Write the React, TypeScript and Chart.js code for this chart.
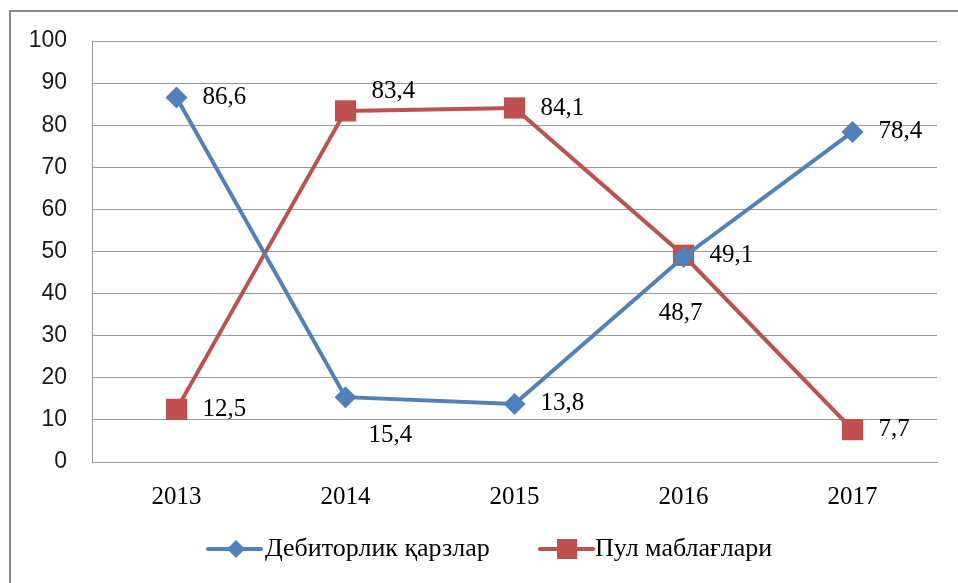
import React, { useEffect, useRef } from 'react';
import { Chart, registerables } from 'chart.js';

Chart.register(...registerables);

const years = ['2013', '2014', '2015', '2016', '2017'];
const receivables = [86.6, 15.4, 13.8, 48.7, 78.4];
const cash = [12.5, 83.4, 84.1, 49.1, 7.7];
const seriesNames = ['Дебиторлик қарзлар', 'Пул маблағлари'];
const yTicks = [0, 10, 20, 30, 40, 50, 60, 70, 80, 90, 100];
const receivablesLabelPlace = ['right', 'belowRight', 'right', 'below', 'right'];
const cashLabelPlace = ['right', 'aboveRight', 'right', 'right', 'right'];

const BLUE = '#4F81BD';
const RED = '#C0504D';
const SERIF = '"Liberation Serif", "Times New Roman", serif';
const SANS = '"Liberation Sans", Arial, sans-serif';

const labelPlugin = {
  id: 'valueLabels',
  afterDatasetsDraw(chart: any) {
    const ctx = chart.ctx;
    const places = [receivablesLabelPlace, cashLabelPlace];
    ctx.save();
    ctx.font = `25px ${SERIF}`;
    ctx.fillStyle = '#000';
    ctx.textBaseline = 'middle';
    chart.data.datasets.forEach((ds: any, i: number) => {
      const meta = chart.getDatasetMeta(i);
      meta.data.forEach((pt: any, j: number) => {
        const txt = Number(ds.data[j]).toFixed(1).replace('.', ',');
        const p = places[i][j];
        let x = pt.x + 26;
        let y = pt.y;
        ctx.textAlign = 'left';
        if (p === 'belowRight') {
          x = pt.x + 23;
          y = pt.y + 38;
        } else if (p === 'below') {
          ctx.textAlign = 'center';
          x = pt.x - 3;
          y = pt.y + 56;
        } else if (p === 'aboveRight') {
          x = pt.x + 26;
          y = pt.y - 19;
        }
        ctx.fillText(txt, x, y);
      });
    });
    ctx.restore();
  },
};

const legendPlugin = {
  id: 'customLegend',
  afterDraw(chart: any) {
    const ctx = chart.ctx;
    const y = 549;
    ctx.save();
    ctx.strokeStyle = BLUE;
    ctx.lineWidth = 4;
    ctx.lineCap = 'round';
    ctx.beginPath();
    ctx.moveTo(208, y);
    ctx.lineTo(261, y);
    ctx.stroke();
    ctx.fillStyle = BLUE;
    ctx.beginPath();
    const r = 9;
    ctx.moveTo(236, y - r);
    ctx.lineTo(236 + r, y);
    ctx.lineTo(236, y + r);
    ctx.lineTo(236 - r, y);
    ctx.closePath();
    ctx.fill();
    ctx.strokeStyle = RED;
    ctx.beginPath();
    ctx.moveTo(540, y);
    ctx.lineTo(593, y);
    ctx.stroke();
    ctx.fillStyle = RED;
    ctx.fillRect(567 - 10, y - 10, 20, 20);
    ctx.fillStyle = '#000';
    ctx.font = `26px ${SERIF}`;
    ctx.textAlign = 'left';
    ctx.textBaseline = 'middle';
    ctx.fillText(seriesNames[0], 265, y);
    ctx.fillText(seriesNames[1], 595, y);
    ctx.restore();
  },
};

export default function App() {
  const ref = useRef<HTMLCanvasElement | null>(null);
  useEffect(() => {
    if (!ref.current) return;
    const chart = new Chart(ref.current, {
      type: 'line',
      data: {
        labels: years,
        datasets: [
          {
            label: seriesNames[0],
            data: receivables,
            borderColor: BLUE,
            backgroundColor: BLUE,
            borderWidth: 4,
            pointStyle: 'rectRot',
            pointRadius: 11,
            pointHoverRadius: 11,
            pointBorderWidth: 0,
            tension: 0,
          },
          {
            label: seriesNames[1],
            data: cash,
            borderColor: RED,
            backgroundColor: RED,
            borderWidth: 4,
            pointStyle: 'rect',
            pointRadius: 15,
            pointHoverRadius: 15,
            pointBorderWidth: 0,
            tension: 0,
          },
        ],
      },
      options: {
        responsive: false,
        animation: false,
        devicePixelRatio: 1,
        layout: { padding: { top: 41, right: 21, left: 0, bottom: 0 } },
        plugins: {
          legend: { display: false },
          tooltip: { enabled: false },
        },
        scales: {
          x: {
            offset: true,
            grid: { display: false, drawTicks: false },
            border: { display: true, color: '#9a9a9a', width: 1 },
            ticks: { padding: 20, color: '#000', font: { family: SERIF, size: 25 } },
            afterFit: (s: any) => {
              s.height = 121;
            },
          },
          y: {
            min: 0,
            max: 100,
            afterBuildTicks: (s: any) => {
              s.ticks = yTicks.map((v) => ({ value: v }));
            },
            grid: { color: '#9a9a9a', lineWidth: 1, drawTicks: false },
            border: { display: true, color: '#9a9a9a', width: 1 },
            ticks: { padding: 25, color: '#1a1a1a', font: { family: SANS, size: 23 } },
            afterFit: (s: any) => {
              s.width = 92;
            },
          },
        },
      },
      plugins: [labelPlugin, legendPlugin],
    });
    return () => chart.destroy();
  }, []);

  return (
    <div style={{ position: 'fixed', left: 0, top: 0, width: 958, height: 583, background: '#fff', overflow: 'hidden' }}>
      <div
        style={{
          position: 'absolute',
          left: 9,
          top: 10,
          width: 1000,
          height: 700,
          borderLeft: '2px solid #8a8a8a',
          borderTop: '2px solid #8a8a8a',
        }}
      />
      <canvas ref={ref} width={958} height={583} style={{ position: 'absolute', left: 0, top: 0 }} />
    </div>
  );
}
